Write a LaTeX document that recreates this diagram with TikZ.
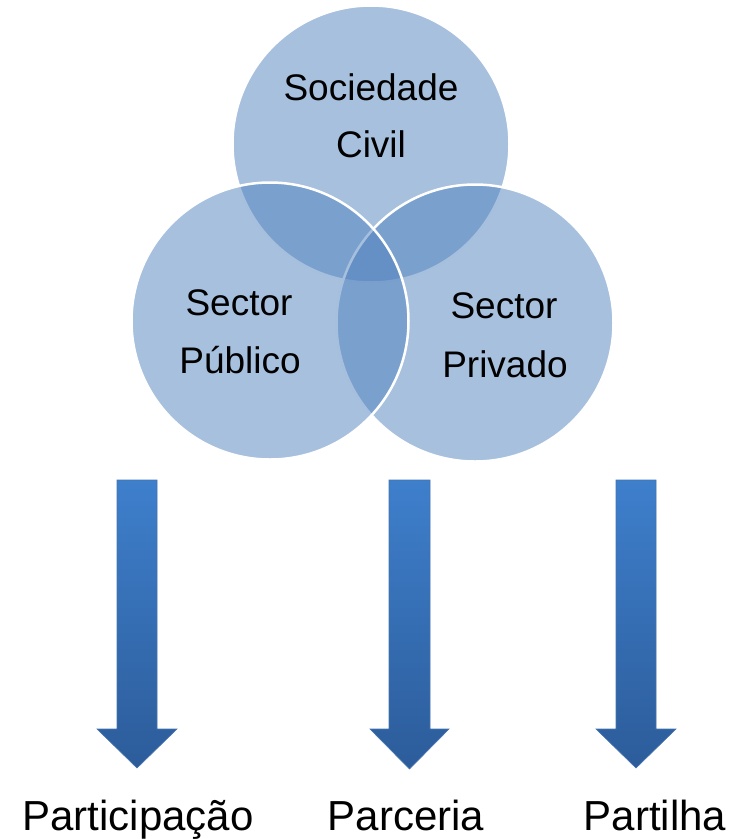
\documentclass[tikz,border=0pt]{standalone}
\usepackage{fontspec}
\setmainfont{Liberation Sans}
\begin{document}
\begin{tikzpicture}[x=1pt,y=-1pt,
  venn/.style={circle, minimum size=277pt, inner sep=0pt, fill={rgb,255:red,79;green,129;blue,189}, fill opacity=0.5, draw=white, draw opacity=1, line width=2.5pt},
  vtext/.style={font=\fontsize{37}{44}\selectfont, anchor=base},
  btext/.style={font=\fontsize{42}{50}\selectfont, anchor=base},
  downarrow/.style={top color={rgb,255:red,62;green,127;blue,204}, bottom color={rgb,255:red,44;green,92;blue,154}, draw={rgb,255:red,70;green,115;blue,175}, line width=0.6pt}
]
\useasboundingbox (0,0) rectangle (742,839);
% circles: top, right, left
\node[venn] (civil) at (371,144) {};
\node[venn] (privado) at (475,323) {};
\node[venn] (publico) at (270,321) {};
% circle texts
\node[vtext] (t1) at (371,100) {Sociedade};
\node[vtext] (t2) at (371,157) {Civil};
\node[vtext] (t3) at (239,315) {Sector};
\node[vtext] (t4) at (240,373) {Público};
\node[vtext] (t5) at (504,318) {Sector};
\node[vtext] (t6) at (505,377) {Privado};
% arrows
\shade[downarrow] (117,480) -- (157,480) -- (157,729) -- (177,729) -- (137,768) -- (97,729) -- (117,729) -- cycle;
\shade[downarrow] (389,480) -- (430,480) -- (430,729) -- (449,729) -- (409.5,769) -- (370,729) -- (389,729) -- cycle;
\shade[downarrow] (616,480) -- (656,480) -- (656,729) -- (676,729) -- (636,768) -- (596,729) -- (616,729) -- cycle;
% bottom labels
\node[btext] (l1) at (138,830) {Participação};
\node[btext] (l2) at (406,830) {Parceria};
\node[btext] (l3) at (655,830) {Partilha};
\end{tikzpicture}
\end{document}
